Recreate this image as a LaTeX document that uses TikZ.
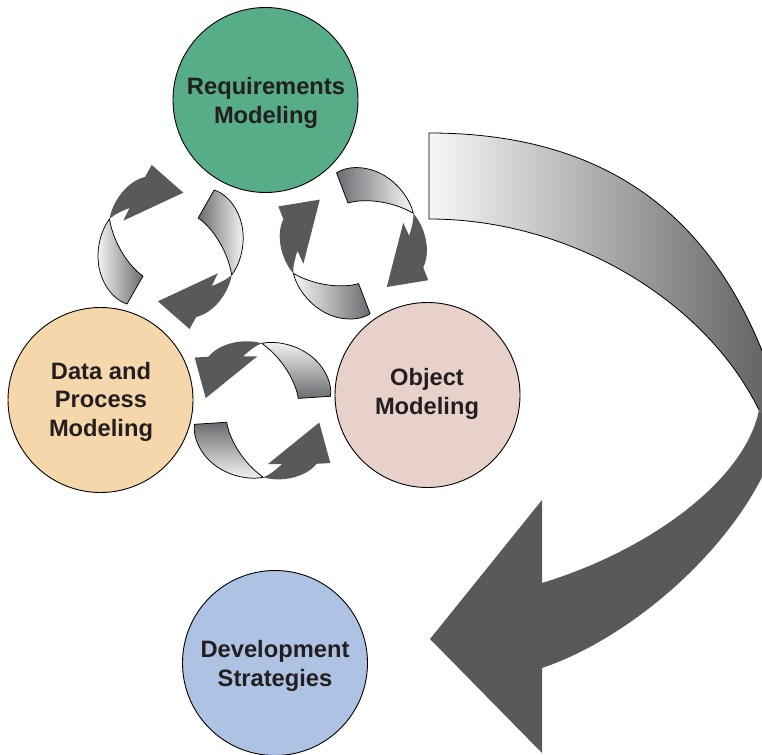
\documentclass[tikz,border=0pt]{standalone}
\usepackage{fontspec}
\setmainfont{Liberation Sans}
\definecolor{reqc}{HTML}{56AD88}
\definecolor{datac}{HTML}{F5D7AB}
\definecolor{objc}{HTML}{E8D1CB}
\definecolor{devc}{HTML}{AEC3E3}
\definecolor{adark}{HTML}{58595B}
\definecolor{glight}{HTML}{F7F7F8}
\definecolor{gdark}{HTML}{6A6B6E}
\definecolor{txt}{HTML}{231F20}
\newcommand\gradshape{(0,0) .. controls (-9,12) and (-13,30) .. (-11,45) .. controls (-9,62) and (2,80) .. (17.5,85) -- (33.5,57) .. controls (20,48) and (4,25) .. (0,0) -- cycle}
\newcommand\darkshape{(0,0) .. controls (3,-18) and (18,-38) .. (35.5,-42) -- (42.2,-54) -- (73.8,-26.3) -- (13.8,1.7) -- (20,-11) .. controls (12,-8) and (4,-4) .. (0,0) -- cycle}
\begin{document}
\begin{tikzpicture}[x=1pt,y=-1pt,
  bubble/.style={circle, draw=black, line width=0.9pt, minimum size=185pt, inner sep=0pt},
  lbl/.style={align=center, font=\fontsize{23.7}{28.5}\selectfont\bfseries, text=txt, inner sep=0pt},
  gradpart/.style={draw=black, line width=0.75pt, line join=round},
  edge/.style={draw=black, line width=0.8pt}]
\useasboundingbox (0,0) rectangle (762,754);
\clip (0,0) rectangle (762,754);

% big curved arrow
\shade[left color=glight, right color=adark]
  (429,133) .. controls (640,133) and (745,250) .. (790,440) -- (759,410)
  .. controls (705,300) and (570,219) .. (429,219) -- cycle;
\draw[edge] (759,410) .. controls (705,300) and (570,219) .. (429,219) -- (429,133)
  .. controls (640,133) and (745,250) .. (790,440);
\fill[adark] (759,410) .. controls (745,480) and (650,550) .. (542,583) -- (542,500)
  -- (430,639) -- (542,753) -- (542,668) .. controls (640,635) and (755,530) .. (780,430)
  -- (790,440) -- cycle;

% circles
\node[bubble, fill=reqc] (req) at (265.5,100) {};
\node[lbl] (reqt) at (266,103) {Requirements\\Modeling};
\node[bubble, fill=datac] (dat) at (100.5,400) {};
\node[lbl] (datt) at (101,401.5) {Data and\\Process\\Modeling};
\node[bubble, fill=objc] (obj) at (427.5,395) {};
\node[lbl] (objt) at (427,394) {Object\\Modeling};
\node[bubble, fill=devc] (dev) at (275,663) {};
\node[lbl] (devt) at (275,666) {Development\\Strategies};

% pair 1 (left)
\begin{scope}[shift={(109.5,219)}]
  \fill[adark] \darkshape;
  \shade[gradpart, left color=glight, right color=gdark] \gradshape;
\end{scope}
\begin{scope}[shift={(231.7,275)}, rotate=180]
  \fill[adark] \darkshape;
  \shade[gradpart, left color=gdark, right color=glight] \gradshape;
\end{scope}
% pair 2 (right)
\begin{scope}[shift={(293.3,273.3)}, rotate=50.6]
  \fill[adark] \darkshape;
  \shade[gradpart, left color=glight, right color=gdark] \gradshape;
\end{scope}
\begin{scope}[shift={(413.3,213.3)}, rotate=-129.4]
  \fill[adark] \darkshape;
  \shade[gradpart, left color=gdark, right color=glight] \gradshape;
\end{scope}
% pair 3 (bottom)
\begin{scope}[shift={(263.3,477.3)}, rotate=-116, xscale=-1]
  \fill[adark] \darkshape;
  \shade[gradpart, top color=gdark, bottom color=glight] \gradshape;
\end{scope}
\begin{scope}[shift={(261.7,343.3)}, rotate=64, xscale=-1]
  \fill[adark] \darkshape;
  \shade[gradpart, top color=glight, bottom color=gdark] \gradshape;
\end{scope}
\end{tikzpicture}
\end{document}
